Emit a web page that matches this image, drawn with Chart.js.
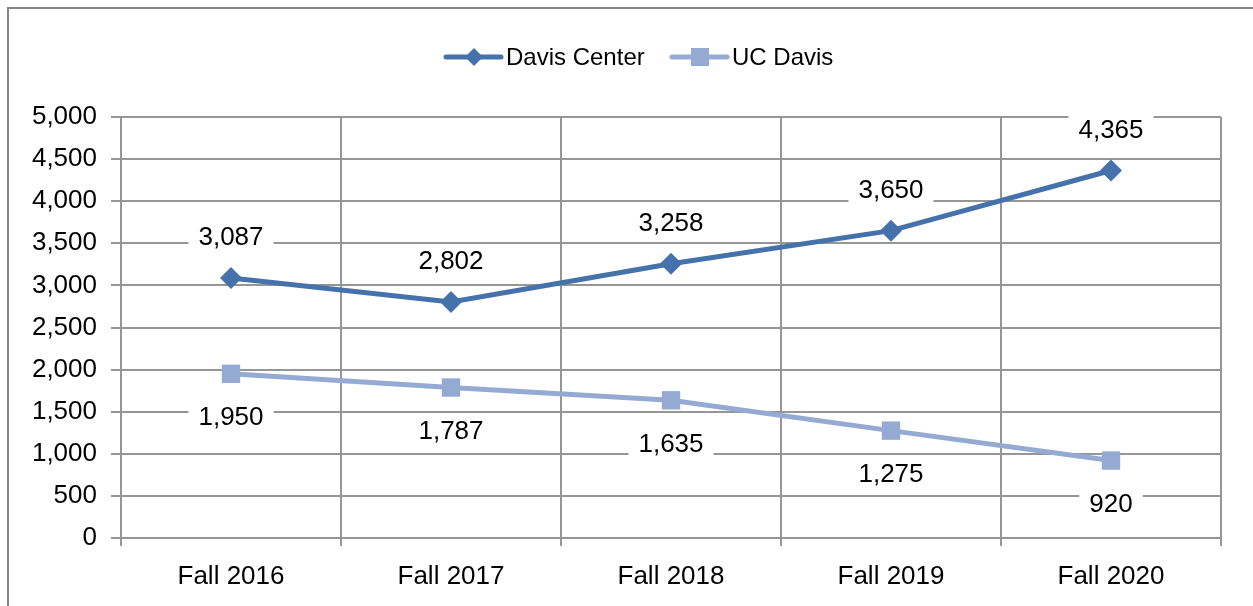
<!DOCTYPE html>
<html>
<head>
<meta charset="utf-8">
<script src="https://cdn.jsdelivr.net/npm/chart.js@4"></script>
<style>
  html, body { margin: 0; padding: 0; background: #fff; }
  #wrap { width: 1253px; height: 606px; position: relative; }
</style>
</head>
<body>
<div id="wrap"><canvas id="enrollChart" width="1253" height="606"></canvas></div>
<script>
const terms = ["Fall 2016", "Fall 2017", "Fall 2018", "Fall 2019", "Fall 2020"];
const davisCenter = [3087, 2802, 3258, 3650, 4365];
const ucDavis = [1950, 1787, 1635, 1275, 920];
const yTicks = [0, 500, 1000, 1500, 2000, 2500, 3000, 3500, 4000, 4500, 5000];

const FONT = "'Liberation Sans', Arial, sans-serif";
const DARK = "#4672ac";
const LIGHT = "#95aad3";
const GRID = "#969696";

const fmt = v => v.toLocaleString("en-US");

// outer frame (left + top edges only) and white background
const framePlugin = {
    id: "frame",
    beforeDraw(chart) {
        const c = chart.ctx;
        c.save();
        c.fillStyle = "#fff";
        c.fillRect(0, 0, chart.width, chart.height);
        c.strokeStyle = "#868686";
        c.lineWidth = 2;
        c.beginPath();
        c.moveTo(8, chart.height);
        c.lineTo(8, 8);
        c.lineTo(chart.width, 8);
        c.stroke();
        c.restore();
    }
};

// legend: line with marker, then text
const legendPlugin = {
    id: "lineLegend",
    afterDraw(chart) {
        const c = chart.ctx;
        const items = [
            { text: "Davis Center", color: DARK, shape: "diamond", x: 446 },
            { text: "UC Davis", color: LIGHT, shape: "square", x: 672 }
        ];
        const y = 57;
        c.save();
        c.font = "24px " + FONT;
        c.textBaseline = "middle";
        items.forEach(it => {
            c.strokeStyle = it.color;
            c.fillStyle = it.color;
            c.lineWidth = 5;
            c.lineCap = "round";
            c.beginPath();
            c.moveTo(it.x, y);
            c.lineTo(it.x + 55, y);
            c.stroke();
            const mx = it.x + 28;
            c.beginPath();
            if (it.shape === "diamond") {
                c.moveTo(mx, y - 9);
                c.lineTo(mx + 9, y);
                c.lineTo(mx, y + 9);
                c.lineTo(mx - 9, y);
            } else {
                c.rect(mx - 9, y - 9, 18, 18);
            }
            c.closePath();
            c.fill();
            c.fillStyle = "#000";
            c.fillText(it.text, it.x + 60, y + 1);
        });
        c.restore();
    }
};

// value labels with white boxes, above for Davis Center, below for UC Davis
const valueLabels = {
    id: "valueLabels",
    afterDatasetsDraw(chart) {
        const c = chart.ctx;
        c.save();
        c.font = "26px " + FONT;
        c.textAlign = "center";
        c.textBaseline = "middle";
        chart.data.datasets.forEach((ds, i) => {
            const meta = chart.getDatasetMeta(i);
            const dy = i === 0 ? -41 : 43;
            meta.data.forEach((pt, j) => {
                const txt = fmt(ds.data[j]);
                const w = c.measureText(txt).width + 20;
                const x = pt.x, y = pt.y + dy;
                c.fillStyle = "#fff";
                c.fillRect(x - w / 2, y - 16, w, 32);
                c.fillStyle = "#000";
                c.fillText(txt, x, y + 1);
            });
        });
        c.restore();
    }
};

const ctx = document.getElementById("enrollChart");
new Chart(ctx, {
    type: "line",
    data: {
        labels: terms,
        datasets: [{
            label: "Davis Center",
            data: davisCenter,
            borderColor: DARK,
            backgroundColor: DARK,
            borderWidth: 5,
            pointStyle: "rectRot",
            pointRadius: 11,
            pointBorderWidth: 0,
            tension: 0
        }, {
            label: "UC Davis",
            data: ucDavis,
            borderColor: LIGHT,
            backgroundColor: LIGHT,
            borderWidth: 5,
            pointStyle: "rect",
            pointRadius: 13,
            pointBorderWidth: 0,
            tension: 0
        }]
    },
    options: {
        responsive: false,
        animation: false,
        layout: { padding: { top: 117, right: 32, left: 0, bottom: 0 } },
        plugins: {
            legend: { display: false },
            tooltip: { enabled: false }
        },
        scales: {
            x: {
                offset: true,
                afterFit(scale) { scale.height = 68; },
                grid: {
                    offset: true,
                    color: GRID,
                    lineWidth: 2,
                    tickLength: 8
                },
                border: { color: GRID, width: 2 },
                ticks: {
                    color: "#000",
                    padding: 15,
                    font: { family: FONT, size: 26 }
                }
            },
            y: {
                min: 0,
                max: 5000,
                afterFit(scale) { scale.width = 121; },
                afterBuildTicks(scale) {
                    scale.ticks = yTicks.map(v => ({ value: v }));
                },
                grid: {
                    color: GRID,
                    lineWidth: 2,
                    tickLength: 10
                },
                border: { color: GRID, width: 2 },
                ticks: {
                    color: "#000",
                    padding: 14,
                    font: { family: FONT, size: 26 },
                    callback: v => fmt(v)
                }
            }
        }
    },
    plugins: [framePlugin, valueLabels, legendPlugin]
});
</script>
</body>
</html>
